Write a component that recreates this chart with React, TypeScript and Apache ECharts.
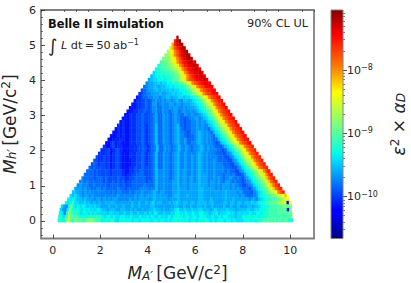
import React, { useEffect, useRef } from "react";
import * as echarts from "echarts";

const FONT = "DejaVu Sans";
const TXT = "#262626";
const SPINE = "#808080";

// upper-limit map: level characters (base 36, 0..z = bottom..top of the colour bar), one row per Mh', top row first
const rowMh = [5.2,5.1,5.0,4.9,4.8,4.7,4.6,4.5,4.4,4.3,4.2,4.1,4.0,3.9,3.8,3.7,3.6,3.5,3.4,3.3,3.2,3.1,3.0,2.9,2.8,2.7,2.6,2.5,2.4,2.3,2.2,2.1,2.0,1.9,1.8,1.7,1.6,1.5,1.4,1.3,1.2,1.1,1.0,0.9,0.8,0.7,0.6,0.5,0.4,0.3,0.2,0.1,0.0];
const rowStart = [5.2,5.1,5.0,4.9,4.8,4.7,4.6,4.5,4.4,4.3,4.2,4.1,4.0,3.9,3.8,3.7,3.6,3.5,3.4,3.3,3.2,3.1,3.0,2.9,2.8,2.7,2.6,2.5,2.4,2.3,2.2,2.1,2.0,1.9,1.8,1.7,1.6,1.5,1.4,1.3,1.2,1.1,1.0,0.9,0.8,0.7,0.6,0.5,0.33,0.28,0.25,0.22,0.2];
const rowEnd = [5.28,5.38,5.48,5.58,5.68,5.78,5.88,6.02,6.13,6.23,6.33,6.43,6.53,6.65,6.75,6.85,6.95,7.05,7.15,7.25,7.35,7.45,7.55,7.65,7.75,7.85,7.95,8.05,8.15,8.25,8.35,8.45,8.55,8.65,8.75,8.85,8.95,9.05,9.15,9.25,9.35,9.45,9.55,9.65,9.75,9.85,9.95,10.04,10.05,10.05,10.06,10.08,10.1];
const rowLevels = [
  "y",
  "uxy",
  "puwxy",
  "lpsuwxy",
  "jlnqsuwxy",
  "ijlnqsuwxyx",
  "hiijlnqsuwxyx",
  "gghijlnqsuvwxxw",
  "efgghijlnqsuvwxxw",
  "deffgghijlnqsuvwxxw",
  "cdeeeffgghjlnqsuvwwxw",
  "bcddedeeffghjlnqsuvwwxw",
  "abccddddeefghjlnqstuvwwxw",
  "9aabbcbccddeefghjlnqstuvwwv",
  "89aabbabbccdcddeefhjlnqstuvwv",
  "789aabbabbbcbccddefhjlnqstuvv",
  "67899aaabaabbcbccddefhjlnqstuvv",
  "5678899aa9aabbabbccbccdefhjlnqstuv",
  "566778" + "789a99a9aa" + "9aba9bba" + "bcdefhjlnqstuv",
  "5566778" + "78aa89a99a" + "a9aa9aaab" + "bcdefhjlnqstuv",
  "55566778" + "789a88a99a" + "9aa99a9aa" + "abcdefhjlnqstuv",
  "555667787" + "789a88a998" + "9aa89a99a9" + "abcdefhjlnqstuv",
  "5566677877" + "789a88a998" + "9a988a99a9" + "9abcdfhjlnqstuv",
  "5" + "5566677877" + "789a88a998" + "9a9887899a" + "a9abcdfhjlnqstuv",
  "56" + "5566677877" + "789a88a998" + "9a98878899" + "a9a9bcdfhjlnqstuv",
  "656" + "5566677876" + "789b88a998" + "9ab8878899" + "a9a99bcdfhjlnqstuv",
  "5656" + "5566677876" + "789b88a998" + "9ab9878899" + "a9a998bcdfhjlnqstuv",
  "55656" + "5566677876" + "789b88a998" + "9ab9987899" + "aba9a98bcdfhjlnqstuv",
  "545656" + "5566677876" + "789b88a998" + "9ab9987889" + "aba9a998bcdfhjlnqstuv",
  "5456566" + "5566677876" + "789b88a998" + "9ab99a8889" + "aba9a9988bcdfhjlnqstuv",
  "54675665" + "5566677876" + "789b88a998" + "9ab99a8899" + "aba9a99878bcdfhjlnqstuv",
  "654675665" + "5566677876" + "789b88a998" + "9ab99a9899" + "aba9a998879bcdfhjlnqstu",
  "6667567765" + "5566677876" + "789b88a998" + "9ab99a9899" + "aba9a9998878bcdfhjlnqstu",
  "6" + "6667567765" + "5566677876" + "789b88a998" + "9ab99a9999" + "aba9a99988" + "878" + "9acdfhjlnqstu",
  "76" + "6767567765" + "5566677876" + "789b88a998" + "9ab99a99a9" + "aba9a99998" + "8877" + "9acdfhjlnqstu",
  "776" + "6767567765" + "5556677876" + "789b88a998" + "9ab99a99a9" + "aba9a99a98" + "88877" + "9acdfhjlnqstu",
  "7876" + "7767567765" + "5556677876" + "789b88a998" + "9ab99a99a9" + "aba9a99a99" + "988877" + "9acdfhjlnqstu",
  "87877" + "7767567765" + "5566777877" + "789b88a998" + "9ab99a99a9" + "aba9a99a99" + "9988877" + "9acdfhjlnqstu",
  "888787" + "7777677776" + "5566778877" + "789b99a998" + "9ab9aa99a9" + "aba9a99a99" + "99898877" + "9acdeghjlnqtu",
  "8888787" + "7777677776" + "5667788877" + "789b99a998" + "9ab9aa99a9" + "abaaa99a99" + "989989877" + "8acdeghjlnqtu",
  "98888788" + "8787777877" + "6677888887" + "789b99a998" + "9ab9aa9aa9" + "abaaa99a9a" + "9899a98987" + "9acdeghjlortu",
  "998988888" + "8787787878" + "6778888887" + "889b99a999" + "aab9aa9aa9" + "abaaa9aa9a" + "98aa989887" + "8" + "9acdeghjlortu",
  "9a99988988" + "8887888878" + "7778888898" + "889b99a999" + "aab9aa9aaa" + "abaaa9aa9a" + "9aaa9a9987" + "78" + "9acdeghjlortu",
  "a" + "aa9a998899" + "8988888988" + "7888889999" + "899b99a999" + "aabaaa9aaa" + "abbaaaaa9a" + "9aaa9a9a98" + "887" + "9acdfghjlortu",
  "bb" + "aa9a9a9999" + "9989898998" + "8898999a99" + "9aba9aa999" + "aabaaaaaaa" + "abbaaaaaaa" + "aabaaaa9a9" + "8887" + "9acdfghjlmqsu",
  "cbc" + "ba9aa9a999" + "9999999a99" + "9999a9aa9a" + "aabaaaaa99" + "abbaaabaaa" + "abbaaaaaaa" + "aabaaaaa9a" + "98889" + "acdeffghjklmo",
  "dcdc" + "bbabaaa9aa" + "9a9a9aa999" + "99a9a9aaaa" + "9abaaaaa9a" + "aabaaaaaaa" + "abbaaabaaa" + "aabaabaaaa" + "aa9aa9" + "bcdeeffghijlm",
  "ecdfc" + "cbbcbbabab" + "aababbaaaa" + "aaabaabaab" + "abcabbaaab" + "abcbabbabb" + "abbbbabbaa" + "aabbabbabb" + "abbbcbcdde" + "fgghhijkl4" + "m",
  "ca9dhdc" + "dcdcbcbcbb" + "aaabaabaab" + "aaabaabaaa" + "abbaaaaaaa" + "abbaabaaba" + "abbabaabaa" + "aabaabaaba" + "aabbabbcdd" + "eeffggghhh" + "h",
  "ca9diede" + "dcdcdcccdc" + "bbabbbaabb" + "aababaabaa" + "bbcbbabaab" + "bcdbbcbbcb" + "bccbbbabcb" + "bbbcbbbabb" + "bbcbbccddd" + "effgfgggg4" + "h",
  "dc9ejfee" + "dcddcdcdcc" + "ccbccbcbbc" + "bbcbbcbbcb" + "cbdcbbcbbc" + "cddccdccdc" + "cddccbccdb" + "cccdccbccc" + "ccdccdddee" + "ffffggfggh",
  "edcfkgfg" + "feedefeefe" + "dcddcdccdd" + "ccdcccdccd" + "cdccdcccdc" + "ddedcddcdd" + "cdddccdccd" + "cddcccbccd" + "ddddeddeee" + "fgfffgffgg",
  "eedgmgfh" + "ggfghiigfg" + "ddedeeccdd" + "dddcddcddd" + "dcddcddcdc" + "dedddddcdd" + "cdddedcdcd" + "ddcddcdccc" + "ddedddeeff" + "ggfgfgfgge" + "e",
];

const xMajor = [0, 2, 4, 6, 8, 10];
const xMinor = [-0.5,0.5,1,1.5,2.5,3,3.5,4.5,5,5.5,6.5,7,7.5,8.5,9,9.5,10.5,11];
const yMajor = [0, 1, 2, 3, 4, 5, 6];
const yMinor = [-0.4,-0.2,0.2,0.4,0.6,0.8,1.2,1.4,1.6,1.8,2.2,2.4,2.6,2.8,3.2,3.4,3.6,3.8,4.2,4.4,4.6,4.8,5.2,5.4,5.6,5.8];
const barMajor = [-10, -9, -8];
const barMinor = [-10.52,-10.4,-10.3,-10.22,-10.15,-10.1,-10.05,-9.7,-9.52,-9.4,-9.3,-9.22,-9.15,-9.1,-9.05,-8.7,-8.52,-8.4,-8.3,-8.22,-8.15,-8.1,-8.05,-7.7,-7.52,-7.4,-7.3,-7.22,-7.15,-7.1];
const BAR_MIN = -10.66;
const BAR_MAX = -7.05;

const jetStops: [number, number, number, number][] = [
  [0, 0, 0, 128],
  [0.11, 0, 0, 255],
  [0.125, 0, 0, 255],
  [0.34, 0, 219, 255],
  [0.375, 0, 255, 230],
  [0.5, 125, 255, 122],
  [0.64, 255, 255, 0],
  [0.66, 255, 230, 0],
  [0.75, 255, 125, 0],
  [0.89, 255, 0, 0],
  [0.91, 237, 0, 0],
  [1, 128, 0, 0],
];

function jet(f: number): string {
  for (let i = 1; i < jetStops.length; i++) {
    const a = jetStops[i - 1];
    const b = jetStops[i];
    if (f <= b[0]) {
      const t = (f - a[0]) / (b[0] - a[0]);
      return `rgb(${Math.round(a[1] + (b[1] - a[1]) * t)},${Math.round(a[2] + (b[2] - a[2]) * t)},${Math.round(a[3] + (b[3] - a[3]) * t)})`;
    }
  }
  return "rgb(128,0,0)";
}

const cells: number[][] = [];
rowLevels.forEach((row, r) => {
  const w = (rowEnd[r] - rowStart[r]) / row.length;
  for (let i = 0; i < row.length; i++) {
    cells.push([rowStart[r] + i * w, rowStart[r] + (i + 1) * w, rowMh[r] - 0.03, rowMh[r] + 0.07, parseInt(row[i], 36)]);
  }
});

const tickLabel = { fontFamily: FONT, fontSize: 11, color: TXT };

const axisRich = {
  i: { fontFamily: FONT, fontSize: 17, fontStyle: "italic", color: TXT },
  n: { fontFamily: FONT, fontSize: 17, color: TXT },
  sub: { fontFamily: FONT, fontSize: 12, fontStyle: "italic", color: TXT, padding: [5, 0, 0, 0] },
  sup: { fontFamily: FONT, fontSize: 12, color: TXT, padding: [0, 0, 7, 0] },
};

export default function App() {
  const ref = useRef<HTMLDivElement>(null);
  useEffect(() => {
    const chart = echarts.init(ref.current!, undefined, { renderer: "svg" });
    const noLine = { show: false, onZero: false };
    const hidden = { axisLine: noLine, axisLabel: { show: false }, splitLine: { show: false } };
    chart.setOption({
      animation: false,
      grid: [
        { left: 41, top: 10, width: 273, height: 228.5, show: true, borderColor: SPINE, borderWidth: 1.8, backgroundColor: "transparent", outerBoundsMode: "none", containLabel: false },
        { left: 331, top: 10, width: 12, height: 228.5, show: false, outerBoundsMode: "none", containLabel: false },
      ],
      xAxis: [
        {
          gridIndex: 0, type: "value", min: -0.5, max: 11,
          name: "{i|M}{sub|A′} {n|[GeV/c}{sup|2}{n|]}",
          nameLocation: "middle", nameGap: 25,
          nameTextStyle: { rich: axisRich },
          axisLine: noLine, splitLine: { show: false },
          axisTick: { inside: true, length: 4, lineStyle: { color: TXT, width: 0.8 }, customValues: xMajor },
          axisLabel: { ...tickLabel, margin: 6, customValues: xMajor, formatter: (v: number) => String(v) },
        },
        {
          gridIndex: 0, type: "value", min: -0.5, max: 11, ...hidden,
          axisTick: { inside: true, length: 2, lineStyle: { color: TXT, width: 0.6 }, customValues: xMinor },
        },
        { gridIndex: 1, type: "value", min: 0, max: 1, show: false },
      ],
      yAxis: [
        {
          gridIndex: 0, type: "value", min: -0.5, max: 6,
          name: "{i|M}{sub|h′} {n|[GeV/c}{sup|2}{n|]}",
          nameLocation: "middle", nameGap: 15, nameRotate: 90,
          nameTextStyle: { rich: axisRich },
          axisLine: noLine, splitLine: { show: false },
          axisTick: { inside: true, length: 4, lineStyle: { color: TXT, width: 0.8 }, customValues: yMajor },
          axisLabel: { ...tickLabel, margin: 5, customValues: yMajor, formatter: (v: number) => String(v) },
        },
        {
          gridIndex: 0, type: "value", min: -0.5, max: 6, position: "left", ...hidden,
          axisTick: { inside: true, length: 2, lineStyle: { color: TXT, width: 0.6 }, customValues: yMinor },
        },
        {
          gridIndex: 1, type: "value", min: BAR_MIN, max: BAR_MAX, position: "right",
          axisLine: noLine, splitLine: { show: false },
          axisTick: { length: 4, lineStyle: { color: TXT, width: 0.8 }, customValues: barMajor },
          axisLabel: {
            margin: 4, customValues: barMajor,
            formatter: (v: number) => `{b|10}{s|−${Math.abs(v)}}`,
            rich: {
              b: { fontFamily: FONT, fontSize: 11, color: TXT },
              s: { fontFamily: FONT, fontSize: 8, color: TXT, padding: [0, 0, 5, 0] },
            },
          },
          name: "{i|ε}{sup|2}{n| × }{i|α}{sub|D}",
          nameLocation: "middle", nameGap: 46, nameRotate: 90,
          nameTextStyle: { rich: axisRich },
        },
        {
          gridIndex: 1, type: "value", min: BAR_MIN, max: BAR_MAX, position: "right", ...hidden,
          axisTick: { length: 2, lineStyle: { color: TXT, width: 0.6 }, customValues: barMinor },
        },
      ],
      series: [
        {
          type: "custom", xAxisIndex: 0, yAxisIndex: 0, clip: false, silent: true,
          data: cells,
          encode: { x: [0, 1], y: [2, 3] },
          renderItem: (_: any, api: any) => {
            const p0 = api.coord([api.value(0), api.value(3)]);
            const p1 = api.coord([api.value(1), api.value(2)]);
            return {
              type: "rect",
              shape: { x: p0[0], y: p0[1], width: p1[0] - p0[0] + 0.4, height: p1[1] - p0[1] + 0.4 },
              style: { fill: jet(api.value(4) / 35) },
            };
          },
        },
        {
          type: "custom", xAxisIndex: 2, yAxisIndex: 2, clip: false, silent: true, z: 3,
          data: [[0, 1, BAR_MIN, BAR_MAX]],
          encode: { x: [0, 1], y: [2, 3] },
          renderItem: (_: any, api: any) => {
            const p0 = api.coord([api.value(0), api.value(3)]);
            const p1 = api.coord([api.value(1), api.value(2)]);
            return {
              type: "rect",
              shape: { x: p0[0], y: p0[1], width: p1[0] - p0[0], height: p1[1] - p0[1] },
              style: {
                fill: new echarts.graphic.LinearGradient(0, 1, 0, 0, jetStops.map((s) => ({ offset: s[0], color: `rgb(${s[1]},${s[2]},${s[3]})` }))),
                stroke: SPINE,
                lineWidth: 1,
              },
            };
          },
        },
      ],
      graphic: [
        { type: "text", left: 48, top: 18, style: { text: "Belle II simulation", fontFamily: FONT, fontWeight: "bold", fontSize: 11.4, fill: "#111" } },
        { type: "text", right: 103, top: 18, style: { text: "90% CL UL", fontFamily: FONT, fontSize: 11.3, fill: TXT } },
        {
          type: "text", left: 48, top: 36,
          style: {
            text: "{int|∫}{i| L}{n| dt\u2009=\u200950\u2009ab}{s|−1}",
            fill: TXT,
            rich: {
              int: { fontFamily: FONT, fontSize: 18, fill: TXT },
              i: { fontFamily: FONT, fontSize: 11.3, fontStyle: "italic", fill: TXT },
              n: { fontFamily: FONT, fontSize: 11.3, fill: TXT },
              s: { fontFamily: FONT, fontSize: 8, fill: TXT, padding: [0, 0, 5, 0] },
            },
          },
        },
      ],
    });
    return () => chart.dispose();
  }, []);
  return <div ref={ref} style={{ width: 411, height: 283, position: "fixed", left: 0, top: 0, background: "#fff" }} />;
}
